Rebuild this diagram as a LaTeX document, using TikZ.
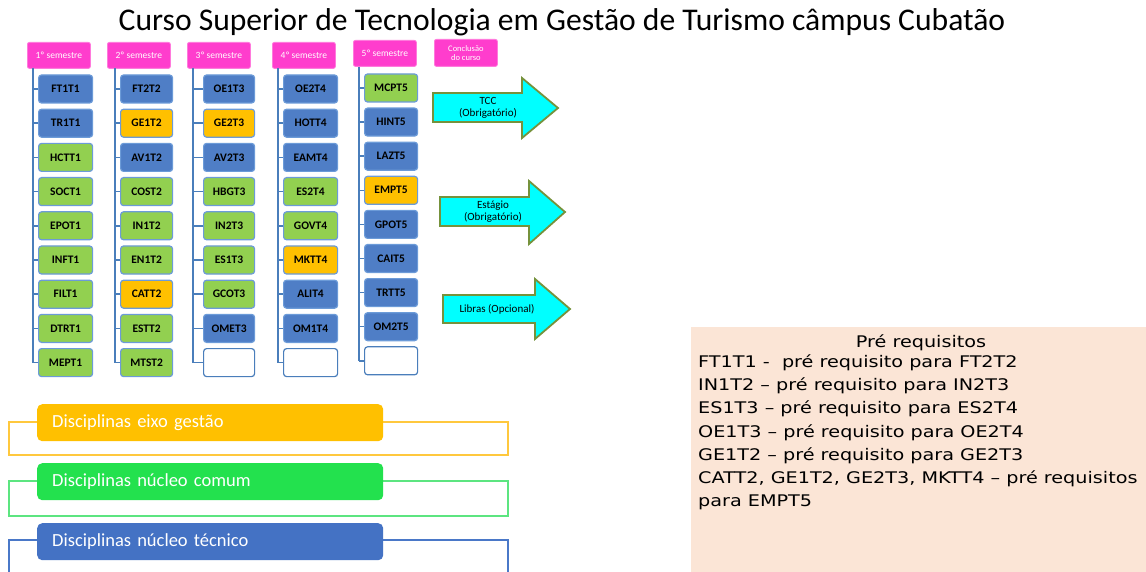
\documentclass[tikz,border=0pt]{standalone}
\usepackage{fontspec}
\setmainfont{Carlito}
\newfontfamily\prefont[FakeStretch=1.2]{DejaVu Sans}
\definecolor{hdrpink}{HTML}{FF3DCD}
\definecolor{hdredge}{HTML}{FF7ADC}
\definecolor{boxblue}{HTML}{4F7EC6}
\definecolor{boxedge}{HTML}{6C9BD8}
\definecolor{boxgreen}{HTML}{92D050}
\definecolor{boxorange}{HTML}{FFC000}
\definecolor{linecol}{HTML}{4A7EBB}
\definecolor{legorange}{HTML}{FFC000}
\definecolor{leggreen}{HTML}{23E14E}
\definecolor{legblue}{HTML}{4472C4}
\definecolor{outorange}{HTML}{FFC83D}
\definecolor{outgreen}{HTML}{5CE580}
\definecolor{outblue}{HTML}{4A78C8}
\definecolor{arrfill}{HTML}{00FFFF}
\definecolor{arredge}{HTML}{76923C}
\definecolor{peach}{HTML}{FBE5D6}
\begin{document}
\begin{tikzpicture}[x=1pt,y=-1pt,
  hdr/.style={fill=hdrpink, draw=hdredge, line width=0.8pt, rounded corners=2pt,
    minimum width=63pt, minimum height=26pt, inner sep=0pt, text=white,
    font=\fontsize{9.5}{10}\selectfont, align=center, anchor=north west},
  cbox/.style={rounded corners=3pt, minimum height=28pt, inner sep=0pt,
    font=\bfseries\fontsize{11.5}{12}\selectfont, line width=1.2pt, draw=boxedge, anchor=west},
  bl/.style={cbox, fill=boxblue},
  gr/.style={cbox, fill=boxgreen},
  og/.style={cbox, fill=boxorange},
  em/.style={cbox, fill=white, draw=linecol},
  vline/.style={draw=linecol, line width=1.5pt},
  arrshape/.style={fill=arrfill, draw=arredge, line width=1.8pt, line join=miter},
  arrtext/.style={font=\fontsize{11}{12}\selectfont, align=center, inner sep=0pt},
  legbox/.style={rounded corners=5pt, minimum height=37pt, text width=316pt,
    inner xsep=15pt, inner ysep=0pt, anchor=north west, text=white,
    font=\fontsize{18.5}{20}\selectfont, align=left},
  legout/.style={line width=1.3pt},
  pretext/.style={font=\prefont\fontsize{16}{18}\selectfont, anchor=west, inner sep=0pt}
]
\useasboundingbox[fill=white] (0,0) rectangle (1146,572);

% title
\node[font=\fontsize{31.6}{34}\selectfont, inner sep=0pt] (title) at (562,22)
  {Curso Superior de Tecnologia em Gestão de Turismo câmpus Cubatão};

% headers
\node[hdr] (h1) at (27,42) {1º semestre};
\node[hdr] (h2) at (107,42) {2º semestre};
\node[hdr] (h3) at (187,42) {3º semestre};
\node[hdr] (h4) at (272,42) {4º semestre};
\node[hdr] (h5) at (353,40) {5º semestre};
\node[hdr, minimum height=27pt, font=\fontsize{8.5}{9.5}\selectfont] (h6) at (434,39) {Conclusão\\do curso};

% line tops
\coordinate (l1) at (33,68);
\coordinate (l2) at (115,68);
\coordinate (l3) at (193,68);
\coordinate (l4) at (278,68);
\coordinate (l5) at (359,67);

% column 1
\foreach [count=\i] \lab/\sty in {FT1T1/bl, TR1T1/bl, HCTT1/gr, SOCT1/gr, EPOT1/gr, INFT1/gr, FILT1/gr, DTRT1/gr, MEPT1/gr}
{
  \node[\sty, minimum width=54pt] (c1r\i) at (38,{89+(\i-1)*34.2}) {\lab};
  \draw[vline] (c1r\i.west) -- (c1r\i.west -| l1);
}
\draw[vline] (l1) -- (c1r9.west -| l1);

% column 2
\foreach [count=\i] \lab/\sty in {FT2T2/bl, GE1T2/og, AV1T2/bl, COST2/gr, IN1T2/gr, EN1T2/gr, CATT2/og, ESTT2/gr, MTST2/gr}
{
  \node[\sty, minimum width=52pt] (c2r\i) at (120,{89+(\i-1)*34.2}) {\lab};
  \draw[vline] (c2r\i.west) -- (c2r\i.west -| l2);
}
\draw[vline] (l2) -- (c2r9.west -| l2);

% column 3
\foreach [count=\i] \lab/\sty in {OE1T3/bl, GE2T3/og, AV2T3/bl, HBGT3/gr, IN2T3/gr, ES1T3/gr, GCOT3/gr, OMET3/bl, {}/em}
{
  \node[\sty, minimum width=51pt] (c3r\i) at (203,{89+(\i-1)*34.2}) {\lab};
  \draw[vline] (c3r\i.west) -- (c3r\i.west -| l3);
}
\draw[vline] (l3) -- (c3r9.west -| l3);

% column 4
\foreach [count=\i] \lab/\sty in {OE2T4/bl, HOTT4/bl, EAMT4/bl, ES2T4/gr, GOVT4/gr, MKTT4/og, ALIT4/bl, OM1T4/bl, {}/em}
{
  \node[\sty, minimum width=54pt] (c4r\i) at (283,{89+(\i-1)*34.2}) {\lab};
  \draw[vline] (c4r\i.west) -- (c4r\i.west -| l4);
}
\draw[vline] (l4) -- (c4r9.west -| l4);

% column 5
\foreach [count=\i] \lab/\sty in {MCPT5/gr, HINT5/bl, LAZT5/bl, EMPT5/og, GPOT5/bl, CAIT5/bl, TRTT5/bl, OM2T5/bl, {}/em}
{
  \node[\sty, minimum width=53pt] (c5r\i) at (364,{88+(\i-1)*34.1}) {\lab};
  \draw[vline] (c5r\i.west) -- (c5r\i.west -| l5);
}
\draw[vline] (l5) -- (c5r9.west -| l5);

% arrows
\draw[arrshape] (433,93) -- (522,93) -- (522,78) -- (558,108) -- (522,138) -- (522,122) -- (433,122) -- cycle;
\node[arrtext] (a1) at (488,107.5) {TCC\\(Obrigatório)};
\draw[arrshape] (440,197) -- (529,197) -- (529,181) -- (565,212) -- (529,244) -- (529,226) -- (440,226) -- cycle;
\node[arrtext] (a2) at (493,212) {Estágio\\(Obrigatório)};
\draw[arrshape] (443,295) -- (535,295) -- (535,279) -- (570,309) -- (535,339) -- (535,323) -- (443,323) -- cycle;
\node[arrtext] (a3) at (497,309) {Libras (Opcional)};

% legend
\draw[legout, draw=outorange] (9,422) rectangle (508,455);
\node[legbox, fill=legorange] (lg1) at (37,404) {Disciplinas eixo gestão};
\draw[legout, draw=outgreen] (9,481) rectangle (508,516);
\node[legbox, fill=leggreen] (lg2) at (37,463) {Disciplinas núcleo comum};
\draw[legout, draw=outblue] (9,573) -- (9,540) -- (508,540) -- (508,573);
\node[legbox, fill=legblue] (lg3) at (37,523) {Disciplinas núcleo técnico};

% prerequisites
\fill[peach] (691,327) rectangle (1146,572);
\node[pretext, anchor=center] (pt) at (921,343) {Pré requisitos};
\node[pretext] (p1) at (698,362.3) {FT1T1 -\ \ pré requisito para FT2T2};
\node[pretext] (p2) at (698,385.7) {IN1T2 – pré requisito para IN2T3};
\node[pretext] (p3) at (698,409) {ES1T3 – pré requisito para ES2T4};
\node[pretext] (p4) at (698,432.3) {OE1T3 – pré requisito para OE2T4};
\node[pretext] (p5) at (698,455.7) {GE1T2 – pré requisito para GE2T3};
\node[pretext] (p6) at (698,479) {CATT2, GE1T2, GE2T3, MKTT4 – pré requisitos};
\node[pretext] (p7) at (698,502.3) {para EMPT5};
\end{tikzpicture}
\end{document}
